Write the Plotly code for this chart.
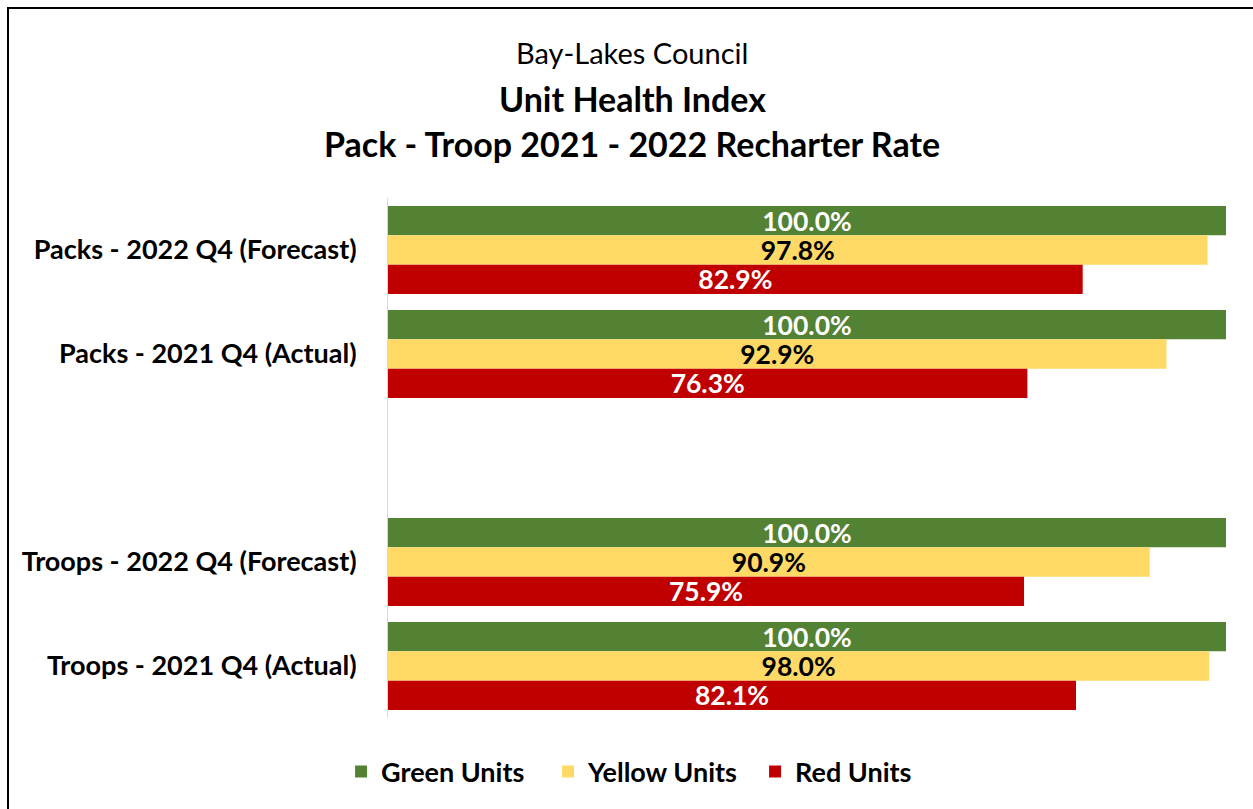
import plotly.graph_objects as go

# Category rows, top to bottom; the blank row separates packs from troops
categories = [
    "Packs - 2022 Q4 (Forecast)",
    "Packs - 2021 Q4 (Actual)",
    " ",
    "Troops - 2022 Q4 (Forecast)",
    "Troops - 2021 Q4 (Actual)",
]
data_rows = [
    "Packs - 2022 Q4 (Forecast)",
    "Packs - 2021 Q4 (Actual)",
    "Troops - 2022 Q4 (Forecast)",
    "Troops - 2021 Q4 (Actual)",
]
green_units = [100.0, 100.0, 100.0, 100.0]
yellow_units = [97.8, 92.9, 90.9, 98.0]
red_units = [82.9, 76.3, 75.9, 82.1]

W, H = 1253, 809
L, R, T, B = 388, 27, 198, 91
FONT = "Lato"

def px_x(px):
    return (px - L) / (W - L - R)

def px_y(py):
    return (H - B - py) / (H - T - B)

series = [
    ("Green Units", green_units, "#548235", "white"),
    ("Yellow Units", yellow_units, "#FFD966", "black"),
    ("Red Units", red_units, "#C00000", "white"),
]

fig = go.Figure()
for name, vals, color, tcolor in series:
    fig.add_trace(go.Bar(
        name=name,
        y=data_rows,
        x=vals,
        orientation="h",
        marker=dict(color=color, line=dict(width=0)),
        texttemplate="%{x:.1f}%",
        textposition="inside",
        insidetextanchor="middle",
        constraintext="none",
        textfont=dict(family=FONT, size=26.5, color=tcolor, weight="bold"),
        cliponaxis=False,
    ))

fig.update_layout(
    width=W, height=H,
    margin=dict(l=L, r=R, t=T, b=B),
    paper_bgcolor="white",
    plot_bgcolor="white",
    barmode="group",
    bargap=0.154,
    bargroupgap=0,
    font=dict(family=FONT, color="black"),
    xaxis=dict(range=[0, 100], showgrid=False, showticklabels=False,
               zeroline=False, showline=False, fixedrange=True),
    yaxis=dict(categoryorder="array", categoryarray=categories,
               type="category", range=[4.5, -0.5],
               showgrid=False, zeroline=False,
               showline=True, linecolor="#D9D9D9", linewidth=1,
               ticks="", ticklabelstandoff=25,
               tickfont=dict(family=FONT, size=27, color="black", weight="bold")),
    showlegend=True,
    legend=dict(orientation="h", xref="container", yref="container",
                x=0.52, xanchor="center", y=1 - 772 / H, yanchor="middle",
                entrywidth=162, entrywidthmode="pixels",
                font=dict(family=FONT, size=27, color="black", weight="bold"),
                itemsizing="constant", traceorder="normal"),
)

titles = [
    ("Bay-Lakes Council", 52, "normal", 29),
    ("Unit Health Index", 98, "bold", 34),
    ("Pack - Troop 2021 - 2022 Recharter Rate", 144, "bold", 34),
]
for text, py, weight, size in titles:
    fig.add_annotation(
        text=text, xref="paper", yref="paper",
        x=px_x(632), y=px_y(py), xanchor="center", yanchor="middle",
        showarrow=False,
        font=dict(family=FONT, size=size, color="black", weight=weight),
    )

# Chart border
fig.add_shape(type="rect", xref="paper", yref="paper",
              x0=px_x(8), x1=px_x(W + 20), y0=px_y(H + 20), y1=px_y(8),
              line=dict(color="black", width=2), fillcolor="rgba(0,0,0,0)",
              layer="above")

fig.write_html("out.html")
